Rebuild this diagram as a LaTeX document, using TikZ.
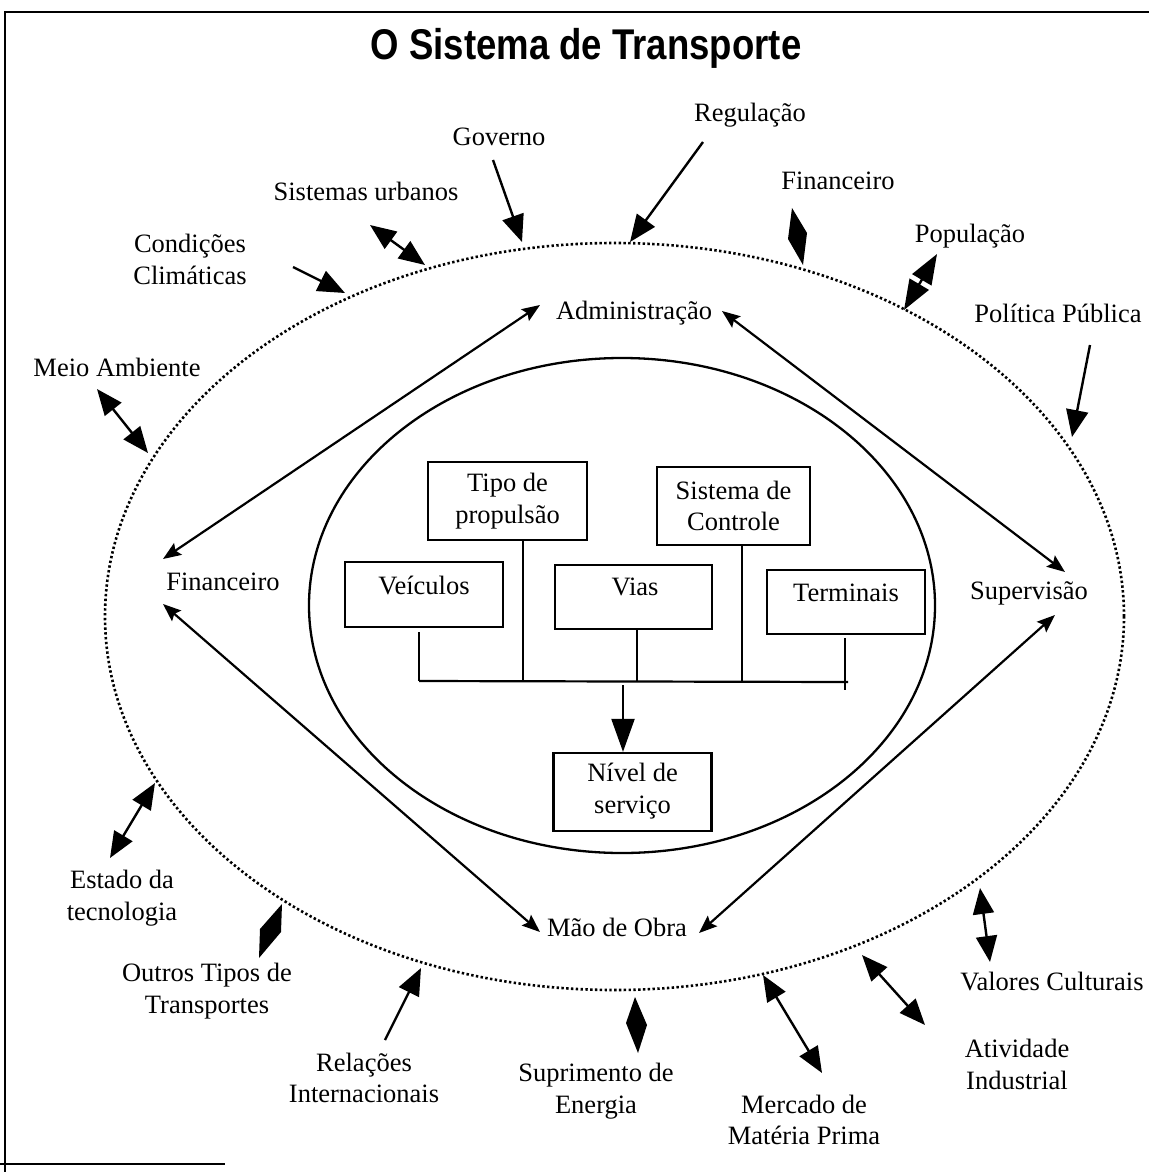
\documentclass[tikz,border=0pt]{standalone}
\usepackage{fontspec}
\setmainfont{Liberation Serif}
\newfontfamily\titlefont{Liberation Sans}[FakeStretch=0.85]
\usetikzlibrary{arrows.meta,calc}

\begin{document}
\begin{tikzpicture}[x=1pt,y=-1pt,
  lbl/.style={font=\fontsize{26.5}{31.5}\selectfont, align=center, inner sep=0pt},
  box/.style={draw, line width=2.3pt, inner sep=0pt},
  wire/.style={line width=2.2pt},
  outin/.style={line width=2.4pt, -{Triangle[length=27pt,width=22pt]}},
  outboth/.style={line width=2.4pt, {Triangle[length=26pt,width=21pt]}-{Triangle[length=26pt,width=21pt]}},
  ring/.style={line width=2.2pt, {Stealth[length=18pt,width=14pt,inset=3pt]}-{Stealth[length=18pt,width=14pt,inset=3pt]}},
  kite/.style={fill=black}
]
\useasboundingbox (0,0) rectangle (1149,1172);
\fill[white] (0,0) rectangle (1149,1172);

% page frame
\draw[line width=1.8pt] (5,1172) -- (5,12) -- (1149,12);
\draw[line width=1.8pt] (0,1164) -- (225,1164);

% title
\node[inner sep=0pt, font=\titlefont\bfseries\fontsize{43}{50}\selectfont] (title) at (586,48) {O Sistema de Transporte};

% environment and system boundaries
\draw[line width=2.6pt, dash pattern=on 2.4pt off 2.4pt] (614.5,616.5) ellipse [x radius=509.5pt, y radius=373.5pt];
\draw[line width=2.3pt] (622,605.5) ellipse [x radius=313pt, y radius=247.5pt];

% ---------- system components ----------
\node[box, minimum width=159pt, minimum height=78pt] (tipo) at (507.5,501) {};
\node[lbl] (tipoT) at (507.5,501) {Tipo de\\propulsão};
\node[box, minimum width=153pt, minimum height=78pt] (sist) at (733.5,506) {};
\node[lbl] (sistT) at (733.5,506) {Sistema de\\Controle};
\node[box, minimum width=158pt, minimum height=65pt] (veic) at (424,594.5) {};
\node[lbl] (veicT) at (424,585) {Veículos};
\node[box, minimum width=157pt, minimum height=64pt] (vias) at (633.5,597) {};
\node[lbl] (viasT) at (635,587) {Vias};
\node[box, minimum width=158pt, minimum height=64pt] (term) at (846,602) {};
\node[lbl] (termT) at (846,593) {Terminais};
\node[box, minimum width=158pt, minimum height=78pt] (nivel) at (632.5,792) {};
\node[lbl] (nivelT) at (632.5,791) {Nível de\\serviço};

% bus joining the components
\coordinate (busL) at (419,681);
\coordinate (busR) at (848,682);
\coordinate (busM) at (623,685);
\draw[wire] (419,632) -- (busL);
\draw[wire] (tipo.south -| 523,0) -- (523,681);
\draw[wire] (vias.south -| 637,0) -- (637,681);
\draw[wire] (sist.south -| 742,0) -- (742,682);
\draw[wire] (845,638) -- (845,690);
\draw[wire] (busL) -- (busR);
\draw[line width=2.2pt, -{Triangle[length=33pt,width=23pt]}] (busM) -- (nivel.north -| busM);

% ---------- management ring ----------
\node[lbl] (adm) at (634,313) {Administração};
\node[lbl] (fin) at (223,582) {Financeiro};
\node[lbl] (sup) at (1029,593) {Supervisão};
\node[lbl] (mao) at (617,927) {Mão de Obra};

\coordinate (finN) at (163,559);
\coordinate (finS) at (163,604);
\coordinate (admW) at (540,305);
\coordinate (admE) at (722,311);
\coordinate (supN) at (1065,572);
\coordinate (supS) at (1055,615);
\coordinate (maoW) at (540,932);
\coordinate (maoE) at (699,933);
\draw[ring] (finN) -- (admW);
\draw[ring] (admE) -- (supN);
\draw[ring] (finS) -- (maoW);
\draw[ring] (supS) -- (maoE);

% ---------- external factors ----------
\node[lbl] (reg) at (750,115) {Regulação};
\node[lbl] (gov) at (499,137) {Governo};
\node[lbl] (surb) at (366,191) {Sistemas urbanos};
\node[lbl] (clim) at (190,259.5) {Condições\\Climáticas};
\node[lbl] (finT) at (838,181) {Financeiro};
\node[lbl] (pop) at (970,236) {População};
\node[lbl] (polp) at (1058,313) {Política Pública};
\node[lbl] (meio) at (117,367) {Meio Ambiente};
\node[lbl] (estado) at (122,898) {Estado da\\tecnologia};
\node[lbl] (outros) at (207,991) {Outros Tipos de\\Transportes};
\node[lbl] (rel) at (364,1078) {Relações\\Internacionais};
\node[lbl] (supr) at (596,1091) {Suprimento de\\Energia};
\node[lbl] (merc) at (804,1120) {Mercado de\\Matéria Prima};
\node[lbl] (ativ) at (1017,1064.5) {Atividade\\Industrial};
\node[lbl] (valor) at (1052,981) {Valores Culturais};

% single-headed influences
\coordinate (regA) at (703,142);   \coordinate (regB) at (630,242);
\coordinate (govA) at (493,160);   \coordinate (govB) at (522,242);
\coordinate (climA) at (293,267);  \coordinate (climB) at (345,293);
\coordinate (polA) at (1090,345);  \coordinate (polB) at (1072,437);
\coordinate (relA) at (385,1040);  \coordinate (relB) at (421,968);
\draw[outin] (regA) -- (regB);
\draw[outin] (govA) -- (govB);
\draw[outin] (climA) -- (climB);
\draw[outin] (polA) -- (polB);
\draw[outin] (relA) -- (relB);

% two-way influences
\coordinate (surbA) at (370,225);  \coordinate (surbB) at (425,265);
\coordinate (popA) at (937,254);   \coordinate (popB) at (904,310);
\coordinate (meioA) at (97,389);   \coordinate (meioB) at (148,453);
\coordinate (estA) at (155,783);   \coordinate (estB) at (110,858);
\coordinate (mercA) at (763,975);  \coordinate (mercB) at (822,1073);
\coordinate (ativA) at (862,955);  \coordinate (ativB) at (925,1025);
\coordinate (valA) at (980,888);   \coordinate (valB) at (990,962);
\draw[outboth] (surbA) -- (surbB);
\draw[line width=2.4pt, {Triangle[length=30pt,width=22pt]}-{Triangle[length=30pt,width=22pt]}] (popA) -- (popB);
\draw[outboth] (meioA) -- (meioB);
\draw[outboth] (estA) -- (estB);
\draw[outboth] (mercA) -- (mercB);
\draw[outboth] (ativA) -- (ativB);
\draw[outboth] (valA) -- (valB);

% kite-shaped two-way markers
\fill[kite] (792,208) -- (807,233) -- (803,265) -- (788,239) -- cycle;
\fill[kite] (282,904) -- (281,932) -- (259,958) -- (260,929) -- cycle;
\fill[kite] (635,997) -- (647,1025) -- (638,1053) -- (626,1023) -- cycle;
\end{tikzpicture}
\end{document}
